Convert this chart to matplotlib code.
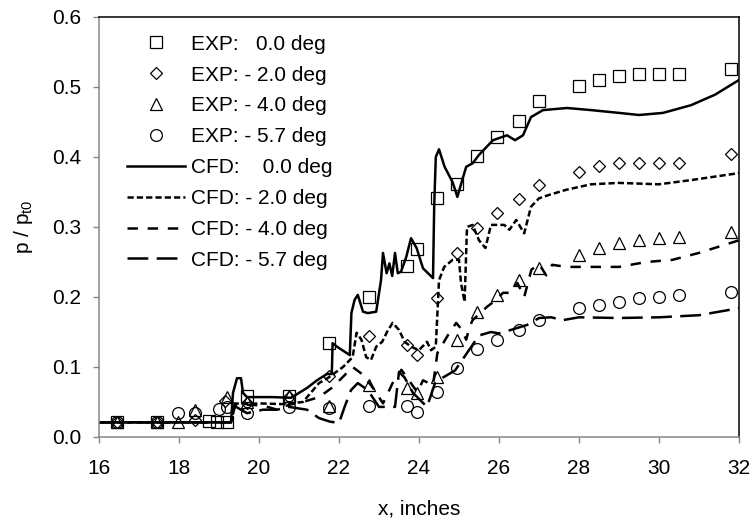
import matplotlib
matplotlib.use("Agg")
from matplotlib import pyplot as plt

plt.rcParams['font.family'] = ['Liberation Sans', 'DejaVu Sans']
plt.rcParams['mathtext.fontset'] = 'custom'
plt.rcParams['mathtext.rm'] = 'Liberation Sans'
plt.rcParams['mathtext.it'] = 'Liberation Sans'
plt.rcParams['lines.scale_dashes'] = False

# datos experimentales
exp_00_x = [16.45, 17.45, 18.75, 18.95, 19.2, 19.7, 20.75, 21.75, 22.75, 23.7, 23.95, 24.45,
            24.95, 25.45, 25.95, 26.5, 27.0, 28.0, 28.5, 29.0, 29.5, 30.0, 30.5, 31.8]
exp_00_y = [0.022, 0.022, 0.023, 0.021, 0.021, 0.058, 0.058, 0.134, 0.200, 0.245, 0.268, 0.341,
            0.362, 0.402, 0.428, 0.452, 0.480, 0.502, 0.510, 0.516, 0.518, 0.519, 0.519, 0.526]

exp_20_x = [16.45, 17.45, 18.4, 19.15, 19.7, 20.75, 21.75, 22.75, 23.7, 23.95, 24.45, 24.95,
            25.45, 25.95, 26.5, 27.0, 28.0, 28.5, 29.0, 29.5, 30.0, 30.5, 31.8]
exp_20_y = [0.022, 0.022, 0.024, 0.052, 0.048, 0.057, 0.087, 0.144, 0.131, 0.117, 0.198, 0.263,
            0.298, 0.320, 0.340, 0.360, 0.378, 0.387, 0.391, 0.392, 0.392, 0.392, 0.404]

exp_40_x = [16.45, 17.45, 17.97, 18.4, 19.2, 19.7, 20.75, 21.75, 22.75, 23.7, 23.95, 24.45,
            24.95, 25.45, 25.95, 26.5, 27.0, 28.0, 28.5, 29.0, 29.5, 30.0, 30.5, 31.8]
exp_40_y = [0.022, 0.022, 0.022, 0.039, 0.057, 0.050, 0.058, 0.045, 0.074, 0.070, 0.063, 0.086,
            0.139, 0.179, 0.203, 0.224, 0.241, 0.260, 0.270, 0.277, 0.281, 0.284, 0.286, 0.293]

exp_57_x = [16.45, 17.45, 17.97, 18.4, 19.0, 19.2, 19.7, 20.75, 21.75, 22.75, 23.7, 23.95, 24.45,
            24.95, 25.45, 25.95, 26.5, 27.0, 28.0, 28.5, 29.0, 29.5, 30.0, 30.5, 31.8]
exp_57_y = [0.022, 0.022, 0.034, 0.035, 0.040, 0.043, 0.034, 0.043, 0.041, 0.044, 0.044, 0.036, 0.064,
            0.098, 0.126, 0.139, 0.153, 0.167, 0.184, 0.189, 0.193, 0.198, 0.200, 0.203, 0.207]

# resultados CFD
cfd_00_x = [16.0, 19.3, 19.35, 19.45, 19.55, 19.6, 19.7, 20.35, 20.8, 21.2, 21.45, 21.7, 21.82,
            21.84, 21.95, 22.27, 22.31, 22.39, 22.47, 22.6, 22.72, 22.93, 23.05, 23.1, 23.19,
            23.26, 23.33, 23.4, 23.47, 23.55, 23.68, 23.8, 23.94, 24.1, 24.35, 24.38, 24.42, 24.5,
            24.64, 24.84, 24.96, 25.06, 25.18, 25.34, 25.5, 25.85, 26.2, 26.4, 26.6, 26.8, 27.1,
            27.7, 28.3, 29.0, 29.5, 30.1, 30.8, 31.4, 32.0]
cfd_00_y = [0.021, 0.021, 0.063, 0.084, 0.084, 0.063, 0.057, 0.057, 0.056, 0.070, 0.081, 0.090,
            0.090, 0.134, 0.129, 0.117, 0.177, 0.196, 0.203, 0.179, 0.177, 0.179, 0.224, 0.263,
            0.234, 0.248, 0.230, 0.263, 0.234, 0.236, 0.257, 0.284, 0.270, 0.241, 0.227, 0.330,
            0.400, 0.411, 0.386, 0.364, 0.343, 0.363, 0.386, 0.391, 0.403, 0.424, 0.431, 0.424,
            0.431, 0.457, 0.467, 0.470, 0.467, 0.463, 0.460, 0.463, 0.474, 0.489, 0.510]

cfd_20_x = [16.0, 19.3, 19.4, 19.7, 20.0, 20.6, 21.1, 21.5, 21.74, 22.1, 22.34, 22.44, 22.56,
            22.68, 22.8, 22.93, 23.08, 23.2, 23.34, 23.5, 23.64, 23.8, 24.0, 24.2, 24.3, 24.42,
            24.5, 24.63, 24.84, 25.0, 25.05, 25.14, 25.2, 25.34, 25.5, 25.66, 25.8, 26.13, 26.26,
            26.43, 26.63, 26.8, 27.0, 27.26, 27.67, 28.3, 29.0, 30.0, 30.8, 32.0]
cfd_20_y = [0.021, 0.021, 0.048, 0.047, 0.048, 0.047, 0.050, 0.077, 0.085, 0.100, 0.114, 0.149,
            0.139, 0.114, 0.110, 0.129, 0.136, 0.150, 0.163, 0.153, 0.136, 0.129, 0.124, 0.136,
            0.124, 0.129, 0.224, 0.243, 0.253, 0.253, 0.220, 0.193, 0.300, 0.303, 0.281, 0.270,
            0.303, 0.303, 0.296, 0.310, 0.291, 0.329, 0.341, 0.346, 0.353, 0.361, 0.363, 0.361,
            0.367, 0.377]

cfd_40_x = [16.0, 19.3, 19.4, 19.7, 20.1, 20.45, 20.75, 21.1, 21.5, 21.84, 22.1, 22.34, 22.6,
            22.85, 23.1, 23.34, 23.56, 23.76, 23.96, 24.1, 24.35, 24.46, 24.76, 24.93, 25.06,
            25.18, 25.26, 25.34, 25.7, 25.93, 26.1, 26.26, 26.46, 26.63, 26.81, 27.0, 27.18,
            27.33, 27.68, 28.33, 29.0, 29.68, 30.33, 31.0, 32.0]
cfd_40_y = [0.021, 0.021, 0.045, 0.046, 0.045, 0.039, 0.046, 0.050, 0.057, 0.071, 0.086, 0.100,
            0.089, 0.070, 0.048, 0.077, 0.096, 0.080, 0.064, 0.081, 0.074, 0.120, 0.149, 0.163,
            0.154, 0.139, 0.157, 0.167, 0.186, 0.196, 0.206, 0.206, 0.220, 0.200, 0.239, 0.247,
            0.231, 0.246, 0.243, 0.243, 0.243, 0.250, 0.253, 0.263, 0.281]

cfd_57_x = [16.0, 19.3, 19.4, 19.7, 20.1, 20.45, 20.75, 21.2, 21.5, 21.77, 22.0, 22.14, 22.3,
            22.47, 22.72, 23.0, 23.4, 23.5, 23.64, 23.85, 24.2, 24.4, 24.6, 24.9, 25.2, 25.5,
            25.8, 26.0, 26.3, 26.7, 27.0, 27.3, 27.6, 28.0, 29.0, 30.0, 31.0, 32.0]
cfd_57_y = [0.021, 0.021, 0.044, 0.034, 0.039, 0.039, 0.043, 0.039, 0.027, 0.022, 0.020, 0.043,
            0.067, 0.077, 0.067, 0.043, 0.043, 0.093, 0.085, 0.063, 0.043, 0.077, 0.085, 0.095,
            0.120, 0.145, 0.150, 0.148, 0.153, 0.160, 0.170, 0.171, 0.167, 0.171, 0.170, 0.171,
            0.174, 0.184]

etiquetas = ["EXP:   0.0 deg", "EXP: - 2.0 deg", "EXP: - 4.0 deg", "EXP: - 5.7 deg",
             "CFD:    0.0 deg", "CFD: - 2.0 deg", "CFD: - 4.0 deg", "CFD: - 5.7 deg"]

fig = plt.figure(figsize=(7.53, 5.27), dpi=100)
ax = fig.add_axes([99 / 753, 90 / 527, 640 / 753, 420 / 527])

mk = dict(linestyle='none', markerfacecolor='none', markeredgecolor='black', markeredgewidth=0.9)
ax.plot(exp_00_x, exp_00_y, marker='s', markersize=8, label=etiquetas[0], **mk)
ax.plot(exp_20_x, exp_20_y, marker='D', markersize=6.5, label=etiquetas[1], **mk)
ax.plot(exp_40_x, exp_40_y, marker='^', markersize=8.5, label=etiquetas[2], **mk)
ax.plot(exp_57_x, exp_57_y, marker='o', markersize=8.5, label=etiquetas[3], **mk)

ax.plot(cfd_00_x, cfd_00_y, color='black', lw=1.8, label=etiquetas[4])
ax.plot(cfd_20_x, cfd_20_y, color='black', lw=1.8, dashes=(4.5, 2.2), label=etiquetas[5])
ax.plot(cfd_40_x, cfd_40_y, color='black', lw=1.8, dashes=(7.5, 7), label=etiquetas[6])
ax.plot(cfd_57_x, cfd_57_y, color='black', lw=1.8, dashes=(15, 6), label=etiquetas[7])

ax.set_xlim(16, 32)
ax.set_ylim(0, 0.6)
ax.set_xticks(range(16, 33, 2))
ax.set_yticks([0.0, 0.1, 0.2, 0.3, 0.4, 0.5, 0.6])
ax.set_yticklabels(["%.1f" % v for v in ax.get_yticks()])

gris = '#868686'
ax.spines['left'].set_color(gris)
ax.spines['bottom'].set_color(gris)
ax.spines['top'].set_color('black')
ax.spines['right'].set_color('black')
for s in ax.spines.values():
    s.set_linewidth(1.1)
ax.tick_params(direction='out', length=4, width=1, color=gris, labelsize=15, pad=9)
ax.tick_params(axis='x', pad=12)

ax.set_xlabel("x, inches", fontsize=15, labelpad=15)
ax.set_ylabel(r"p / p$_\mathrm{t0}$", fontsize=15, labelpad=12)

ax.legend(loc='upper left', bbox_to_anchor=(0.044, 0.958), frameon=False, fontsize=15,
          borderpad=0, borderaxespad=0, handlelength=2.8, handletextpad=0.25, labelspacing=0.57)

fig.savefig("out.png", dpi=100)
